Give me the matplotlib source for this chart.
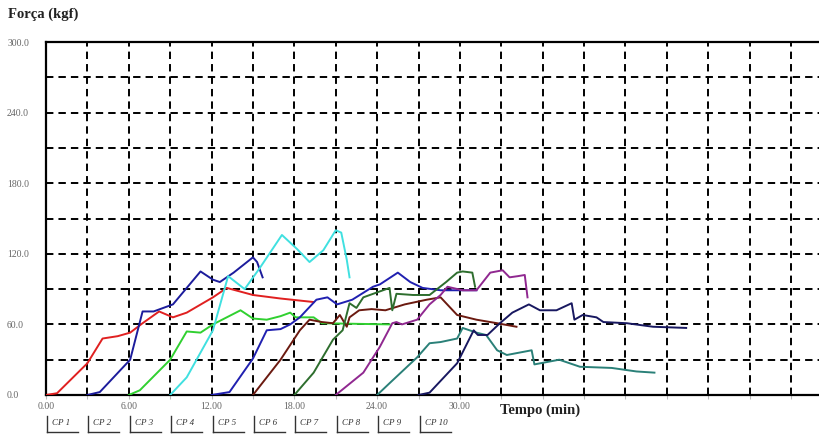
import matplotlib
matplotlib.use("Agg")
import matplotlib.pyplot as plt
from matplotlib.lines import Line2D
from matplotlib.transforms import blended_transform_factory

# Force vs. time for ten specimens (CP 1 .. CP 10)
cp1_t = [0.0, 0.8, 3.0, 4.1, 5.2, 6.1, 7.0, 8.2, 9.2, 10.2, 12.1, 13.1, 15.0, 17.0, 19.4]
cp1_f = [0, 1.5, 27, 48, 50, 53, 61, 71, 66, 70, 83, 91, 85, 82, 79]

cp2_t = [3.0, 3.9, 6.1, 7.0, 7.8, 9.2, 11.2, 12.1, 12.6, 13.6, 15.0, 15.3, 15.7]
cp2_f = [0, 2.5, 30, 71, 71, 77, 105, 98, 96, 104, 117, 113, 100]

cp3_t = [6.0, 6.8, 9.0, 10.2, 11.2, 12.1, 14.1, 15.0, 16.0, 17.0, 17.7, 18.1, 19.4, 20.0, 24.9]
cp3_f = [0, 4, 30, 54, 53, 60, 72, 65, 64, 67, 70, 66, 66, 61, 60]

cp4_t = [9.0, 10.2, 12.1, 13.2, 14.4, 15.5, 17.1, 18.2, 19.1, 20.1, 21.0, 21.4, 21.8, 22.0]
cp4_f = [0, 15, 55, 101, 90, 108, 136, 124, 113, 123, 140, 138, 115, 100]

cp5_t = [12.0, 13.3, 15.0, 16.0, 17.0, 17.7, 18.4, 19.6, 20.4, 21.1, 22.2, 23.7, 24.2,
         25.5, 26.4, 27.3, 28.6, 31.2]
cp5_f = [0, 2.5, 31, 55, 56, 60, 66, 81, 83, 77, 81, 92, 94, 104, 96, 91, 89, 89]

cp6_t = [15.0, 17.0, 18.4, 19.1, 20.0, 20.8, 21.3, 21.8, 22.0, 22.7, 23.6, 24.6, 26.0,
         27.6, 28.6, 29.0, 29.8, 31.2, 32.7, 34.1]
cp6_f = [0, 30, 55, 64, 62, 61, 68, 58, 66, 72, 73, 72, 77, 81, 83, 78, 68, 64, 61, 58]

cp7_t = [18.0, 19.4, 20.8, 21.5, 22.0, 22.5, 23.0, 24.9, 25.1, 25.4, 26.6, 27.8, 29.0,
         29.8, 30.2, 30.9, 31.1]
cp7_f = [0, 19, 47, 55, 78, 74, 83, 91, 72, 86, 85, 85, 96, 104, 105, 104, 92]

cp8_t = [21.0, 23.0, 24.2, 25.1, 25.4, 25.8, 26.9, 27.8, 28.6, 29.1, 30.2, 31.2, 32.2,
         33.1, 33.6, 34.2, 34.7, 34.9]
cp8_f = [0, 19, 41, 61, 62, 60, 64, 77, 85, 92, 89, 89, 104, 106, 100, 101, 102, 83]

cp9_t = [24.0, 24.9, 26.9, 27.8, 28.6, 29.8, 30.2, 31.2, 31.9, 32.7, 33.4, 34.3, 35.2,
         35.4, 37.2, 38.7, 41.0, 42.8, 44.1]
cp9_f = [0, 10, 32, 44, 45, 48, 57, 53, 51, 38, 34, 36, 38, 26, 30, 24, 23, 20, 19]

cp10_t = [27.0, 27.8, 29.8, 31.0, 31.3, 32.0, 32.9, 33.8, 35.0, 35.8, 37.0, 38.1, 38.3,
          38.9, 39.9, 40.4, 42.1, 44.0, 46.4]
cp10_f = [0, 2, 27, 55, 51, 51, 61, 70, 77, 72, 72, 78, 64, 68, 66, 62, 61, 58, 57]

series_labels = ["CP 1", "CP 2", "CP 3", "CP 4", "CP 5",
                 "CP 6", "CP 7", "CP 8", "CP 9", "CP 10"]
series_t = [cp1_t, cp2_t, cp3_t, cp4_t, cp5_t, cp6_t, cp7_t, cp8_t, cp9_t, cp10_t]
series_f = [cp1_f, cp2_f, cp3_f, cp4_f, cp5_f, cp6_f, cp7_f, cp8_f, cp9_f, cp10_f]
series_colors = ["#e02020", "#1c1c9c", "#30d030", "#40e0e0", "#2020b0",
                 "#6b1a10", "#2e6e2e", "#902890", "#2a8078", "#181860"]

y_ticks = [0, 60, 120, 180, 240, 300]
x_label_ticks = [0, 6, 12, 18, 24, 30]

W, H = 820, 434
fig = plt.figure(figsize=(W / 100, H / 100), dpi=100)
fig.patch.set_facecolor("white")

ax = fig.add_axes([46 / W, 39 / H, 774 / W, 353 / H])
ax.set_xlim(0, 56.1)
ax.set_ylim(0, 300)

for t, f, c in zip(series_t, series_f, series_colors):
    ax.plot(t, f, color=c, lw=1.4, zorder=3)

# dashed grid every 3 min / 30 kgf
x_grid = [3 * i for i in range(19)]
y_grid = [30 * i for i in range(11)]
ax.set_xticks(x_grid)
ax.set_xticklabels([f"{v:.2f}" if v in x_label_ticks else "" for v in x_grid])
ax.set_yticks(y_grid)
ax.set_yticklabels([f"{v:.1f}" if v in y_ticks else "" for v in y_grid])
ax.grid(True, color="black", linestyle=(0, (3.8, 2.6)), linewidth=1.4, zorder=1)

ax.tick_params(axis="y", length=0, pad=28, labelsize=7, labelcolor="#666666")
for lab in ax.get_yticklabels():
    lab.set_horizontalalignment("left")
    lab.set_family("Liberation Serif")
ax.tick_params(axis="x", length=3, width=0.8, color="#bbbbbb", pad=2,
               labelsize=7, labelcolor="#666666")
for lab in ax.get_xticklabels():
    lab.set_family("Liberation Serif")

for side in ("left", "bottom", "top"):
    ax.spines[side].set_linewidth(1.6)
    ax.spines[side].set_color("black")
ax.spines["right"].set_visible(False)

fig.text(8 / W, 1 - 14 / H, "Força (kgf)", fontsize=10.5, fontweight="bold",
         family="Liberation Serif", ha="left", va="center", color="#222222")
fig.text(500 / W, 1 - 410 / H, "Tempo (min)", fontsize=10.5, fontweight="bold",
         family="Liberation Serif", ha="left", va="center", color="#222222")

# boxed series labels beneath the axis
trans = blended_transform_factory(ax.transData, fig.transFigure)
y_top = 1 - 416 / H
y_bot = 1 - 432 / H
y_txt = 1 - 423 / H
unit = 56.1 / 774  # minutes per pixel
for i, lab in enumerate(series_labels):
    x0 = 3 * i + 1 * unit
    fig.add_artist(Line2D([x0, x0], [y_top, y_bot], transform=trans, color="#333333", lw=1.0))
    fig.add_artist(Line2D([x0, x0 + 31 * unit], [y_bot, y_bot], transform=trans,
                          color="#333333", lw=1.0))
    fig.text(x0 + 5 * unit, y_txt, lab, transform=trans, fontsize=6.5, style="italic",
             family="Liberation Serif", ha="left", va="center", color="#333333")

fig.savefig("out.png", dpi=100, facecolor="white")
